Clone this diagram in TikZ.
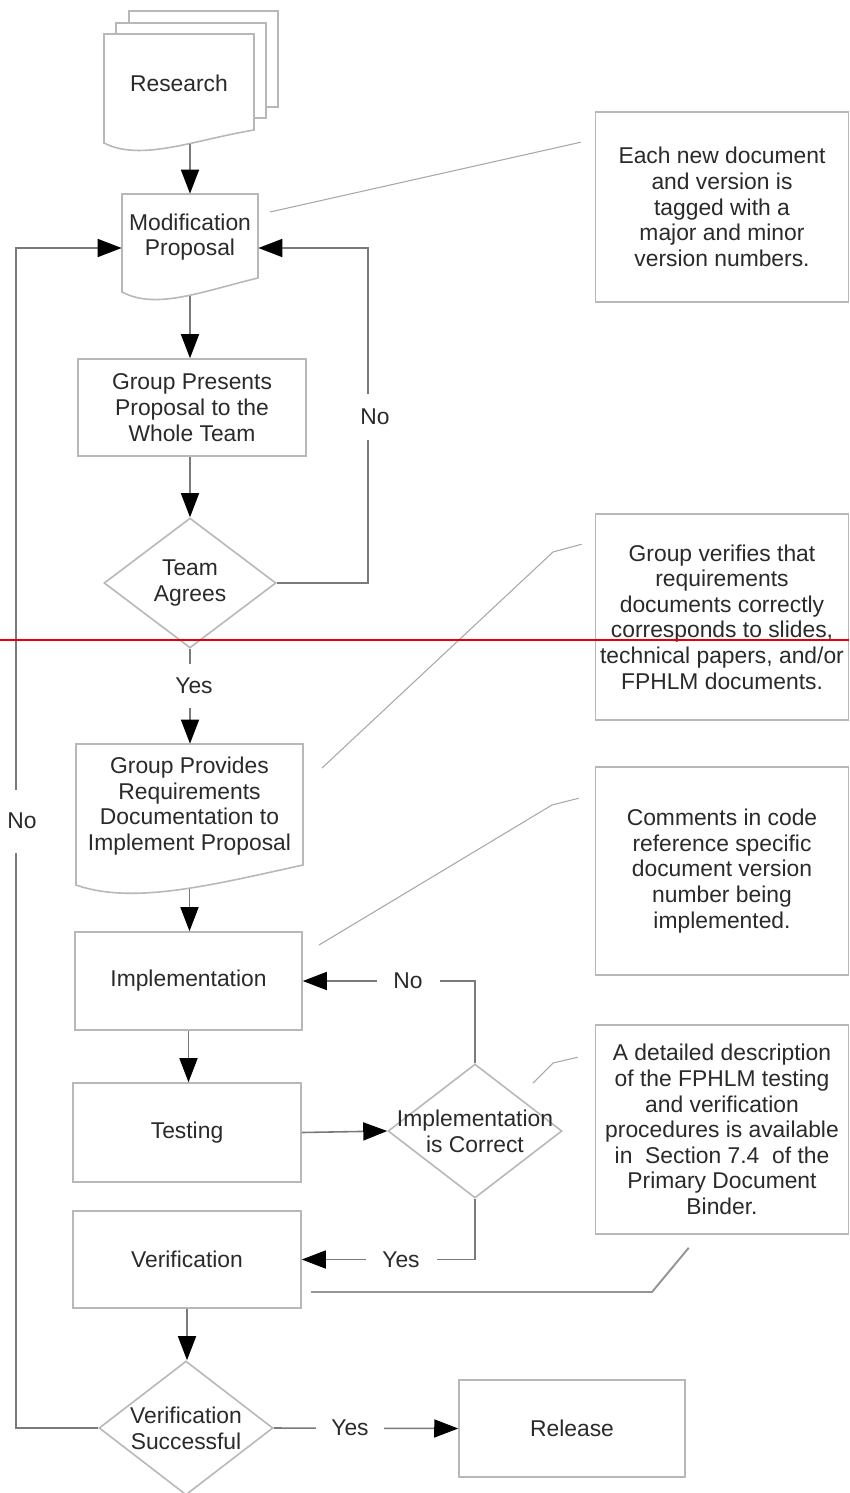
\documentclass[tikz,border=0pt]{standalone}
\usepackage{fontspec}
\setmainfont{Liberation Sans}
\usetikzlibrary{shapes.geometric,arrows.meta,calc}
\definecolor{boxgray}{HTML}{B8B8B8}
\definecolor{linegray}{HTML}{7A7A7A}
\definecolor{callgray}{HTML}{A8A8A8}
\definecolor{txt}{HTML}{2A2A2A}
\begin{document}
\begin{tikzpicture}[x=0.02cm,y=-0.02cm,
  font=\fontsize{13}{14.6}\selectfont, text=txt,
  plain/.style={rectangle, inner sep=0pt, align=center},
  procbox/.style={rectangle, draw=boxgray, line width=0.9pt, align=center, inner sep=0pt},
  decision/.style={diamond, draw=boxgray, line width=0.9pt, inner sep=0pt},
  sheet/.style={draw=boxgray, fill=white, line width=0.9pt},
  conn/.style={draw=linegray, line width=0.9pt},
  arr/.style={conn, -{Triangle[length=0.48cm,width=0.36cm,color=black]}},
  lbl/.style={fill=white, inner sep=0pt, align=center},
  callout/.style={draw=callgray, line width=0.6pt},
  note/.style={rectangle, draw=boxgray, line width=0.9pt, align=center, inner sep=0pt}]
\useasboundingbox (0,0) rectangle (849,1493);
\fill[white] (0,0) rectangle (849,1493);

% ---- document shapes
\draw[sheet] (129,11) rectangle (278,107);
\draw[sheet] (116,23) rectangle (266,118);
\draw[sheet] (104,34) -- (254,34) -- (254,130) .. controls (194,140) and (141,162) .. (104,143) -- cycle;
\draw[sheet] (122,194) -- (258,194) -- (258,278) .. controls (200,292) and (156,310) .. (122,292) -- cycle;
\draw[sheet] (76,744) -- (303,744) -- (303,865) .. controls (212,885) and (133,905) .. (76,885) -- cycle;

% ---- nodes
\node[plain, minimum width=3cm, minimum height=1.96cm] (research) at (179,83) {Research};
\node[plain, minimum width=2.72cm, minimum height=1.72cm] (mod) at (190,237) {Modification\\Proposal};
\node[procbox, minimum width=4.56cm, minimum height=1.94cm] (gp) at (192,407.5) {Group Presents\\Proposal to the\\Whole Team};
\node[decision, minimum width=3.44cm, minimum height=2.6cm] (team) at (190,583) {};
\node[plain] at (team.center) {Team\\Agrees};
\node[plain, minimum width=4.54cm, minimum height=2.48cm] (gpr) at (189.5,806) {Group Provides\\Requirements\\Documentation to\\Implement Proposal};
\node[procbox, minimum width=4.54cm, minimum height=1.96cm] (impl) at (188.5,981) {Implementation};
\node[procbox, minimum width=4.56cm, minimum height=1.98cm] (test) at (187,1132.5) {Testing};
\node[procbox, minimum width=4.56cm, minimum height=1.94cm] (verif) at (187,1259.5) {Verification};
\node[decision, minimum width=3.48cm, minimum height=2.68cm] (ic) at (475,1131) {};
\node[plain] at (ic.center) {Implementation\\is Correct};
\node[decision, minimum width=3.48cm, minimum height=2.68cm] (vs) at (186,1428) {};
\node[plain] at (vs.center) {Verification\\Successful};
\node[procbox, minimum width=4.52cm, minimum height=1.94cm] (release) at (572,1428.5) {Release};

% ---- notes
\node[note, minimum width=5.06cm, minimum height=3.8cm] (n1) at (722,207) {Each new document\\and version is\\tagged with a\\major and minor\\version numbers.};
\node[note, minimum width=5.06cm, minimum height=4.12cm] (n2) at (722,617) {Group verifies that\\requirements\\documents correctly\\corresponds to slides,\\technical papers, and/or\\FPHLM documents.};
\node[note, minimum width=5.06cm, minimum height=4.16cm] (n3) at (722,871) {Comments in code\\reference specific\\document version\\number being\\implemented.};
\node[note, minimum width=5.06cm, minimum height=4.18cm] (n4) at (722,1129.5) {A detailed description\\of the FPHLM testing\\and verification\\procedures is available\\in\ \ Section 7.4\ \ of the\\Primary Document\\Binder.};

% ---- callout lines
\coordinate (c1) at (270,212);
\coordinate (c2) at (322,768);
\coordinate (c3) at (319,945);
\coordinate (c4) at (533,1083);
\coordinate (c5) at (311,1292);
\draw[callout] (c1) -- ($(n1.north west)+(-14,31)$);
\draw[callout] (c2) -- (553,552) -- ($(n2.north west)+(-13,31)$);
\draw[callout] (c3) -- (552,805) -- ($(n3.north west)+(-16,32)$);
\draw[callout] (c4) -- (553,1063) -- ($(n4.north west)+(-17,33)$);
\draw[draw=linegray!80, line width=1.1pt] (c5) -- (652,1292) -- ($(n4.south west)+(94,13)$);

% ---- connectors
\coordinate (modinL) at ($(mod.west)+(0,11)$);
\coordinate (modinR) at ($(mod.east)+(0,11)$);
\coordinate (lx) at (16,0);
\coordinate (rx) at (368,0);
\draw[arr] ($(research.south -| mod.north)+(0,12)$) -- (mod.north);
\draw[arr] ($(mod.south)+(0,16)$) -- (mod.south |- gp.north);
\draw[arr] (gp.south -| team.north) -- (team.north);
\draw[arr] (team.east) -| (rx |- modinR) -- (modinR);
\draw[arr] (team.south) -- (team.south |- gpr.north);
\draw[arr] ($(gpr.south)+(0,21)$) -- (gpr.south |- impl.north);
\draw[arr] (impl.south) -- (impl.south |- test.north);
\draw[arr] (test.east) -- (ic.west);
\draw[arr] (ic.north) |- (impl.east);
\draw[arr] (ic.south) |- (verif.east);
\draw[arr] (verif.south) -- (verif.south |- vs.north);
\draw[arr] (vs.east) -- (release.west);
\draw[arr] (vs.west) -| (lx |- modinL) -- (modinL);

% ---- connector labels
\node[lbl, minimum width=0.6cm, minimum height=0.94cm] at (375,417) {No};
\node[lbl, minimum width=0.6cm, minimum height=0.88cm] at (194,686) {Yes};
\node[lbl, minimum width=0.6cm, minimum height=1.26cm] at (22,821) {No};
\node[lbl, minimum width=1.26cm, minimum height=0.5cm] at (408,981) {No};
\node[lbl, minimum width=1.42cm, minimum height=0.5cm] at (401,1260) {Yes};
\node[lbl, minimum width=1.38cm, minimum height=0.5cm] at (350,1428) {Yes};

% ---- red rule
\draw[draw={rgb,255:red,230;green,0;blue,0}, line width=1.2pt] (0,640) -- (849,640);
\end{tikzpicture}
\end{document}
